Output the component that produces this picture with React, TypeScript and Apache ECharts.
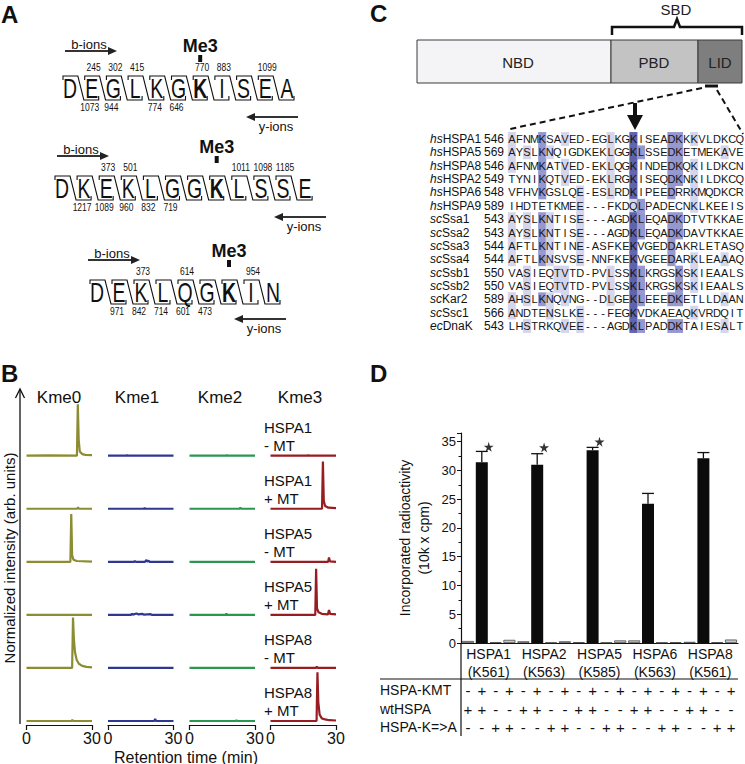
import React, { useEffect, useRef } from "react";
import * as echarts from "echarts";

const FONT = "'Liberation Sans', Arial, Helvetica, sans-serif";
const INK = "#111111";

/* ---------------- Panel A: peptide fragment maps ---------------- */
const peptideSeqs = ["DEGLKGKISEA", "DKEKLGGKLSSE", "DEKLQGKIN"];
const peptideMe3Index = [6, 7, 6];
const peptideBIons: number[][][] = [
  [[1, 245], [2, 302], [3, 415], [6, 770], [7, 883], [9, 1099]],
  [[2, 373], [3, 501], [8, 1011], [9, 1098], [10, 1185]],
  [[2, 373], [4, 614], [7, 954]],
];
const peptideYIons: number[][][] = [
  [[1, 1073], [2, 944], [4, 774], [5, 646]],
  [[1, 1217], [2, 1089], [3, 960], [4, 832], [5, 719]],
  [[1, 971], [2, 842], [3, 714], [4, 601], [5, 473]],
];

/* ---------------- Panel B: extracted ion chromatograms ---------------- */
const chromChannels = ["Kme0", "Kme1", "Kme2", "Kme3"];
const chromSamples = ["HSPA1\n- MT", "HSPA1\n+ MT", "HSPA5\n- MT", "HSPA5\n+ MT", "HSPA8\n- MT", "HSPA8\n+ MT"];
const chromColors = ["#8c8c32", "#2f3891", "#2a9652", "#981d22"];
const chromTimeTicks = [0, 30];
const kme0Traces: number[][][] = [
  [[0, 0], [10, 0.005], [23.1, 0], [23.5, 0.97], [23.9, 0.3], [24.4, 0.08], [25.5, 0.03], [27, 0.015], [30, 0.01]],
  [[0, 0], [23.2, 0], [23.6, 0.025], [24, 0], [30, 0]],
  [[0, 0], [20.1, 0], [20.5, 0.9], [20.9, 0.12], [21.5, 0.04], [23, 0.015], [30, 0.005]],
  [[0, 0], [30, 0]],
  [[0, 0], [20.9, 0], [21.3, 0.95], [21.7, 0.55], [22.2, 0.3], [23, 0.15], [24, 0.08], [25.5, 0.04], [27.5, 0.02], [30, 0.01]],
  [[0, 0], [20.6, 0], [21, 0.02], [21.4, 0], [30, 0]],
];
const kme1Traces: number[][][] = [
  [[0, 0], [8.5, 0], [8.8, 0.015], [9.1, 0], [30, 0]],
  [[0, 0], [16.5, 0], [16.8, 0.015], [17.1, 0], [30, 0]],
  [[0, 0], [12, 0], [12.3, 0.015], [12.8, 0], [17, 0], [17.5, 0.035], [18, 0.005], [18.6, 0.02], [19, 0], [30, 0]],
  [[0, 0], [10.5, 0], [11, 0.02], [11.5, 0.005], [13, 0.025], [14, 0.01], [15.5, 0.02], [16.5, 0.005], [19.5, 0.015], [20, 0], [30, 0]],
  [[0, 0], [30, 0]],
  [[0, 0], [21.2, 0], [21.6, 0.04], [22, 0], [30, 0]],
];
const kme2Traces: number[][][] = [
  [[0, 0], [16.8, 0], [17.1, 0.015], [17.4, 0], [30, 0]],
  [[0, 0], [23, 0], [23.3, 0.02], [23.6, 0], [30, 0]],
  [[0, 0], [30, 0]],
  [[0, 0], [16.6, 0], [16.9, 0.025], [17.2, 0], [30, 0]],
  [[0, 0], [30, 0]],
  [[0, 0], [21.2, 0], [21.5, 0.02], [21.8, 0], [30, 0]],
];
const kme3Traces: number[][][] = [
  [[0, 0], [17, 0], [17.3, 0.015], [17.6, 0], [30, 0]],
  [[0, 0], [23.6, 0], [24, 0.89], [24.4, 0.15], [25, 0.05], [26.5, 0.02], [30, 0.01]],
  [[0, 0], [26.4, 0], [26.8, 0.08], [27.2, 0.01], [30, 0]],
  [[0, 0], [20.5, 0], [20.9, 0.87], [21.3, 0.12], [22, 0.05], [23.5, 0.02], [26.3, 0.01], [26.8, 0.09], [27.3, 0.02], [30, 0.01]],
  [[0, 0], [20.8, 0], [21.2, 0.025], [21.6, 0], [30, 0]],
  [[0, 0], [21.1, 0], [21.5, 0.92], [21.9, 0.35], [22.5, 0.12], [23.5, 0.05], [25, 0.03], [27, 0.015], [30, 0.01]],
];

/* ---------------- Panel C: domains and alignment ---------------- */
const domainNames = ["NBD", "PBD", "LID"];
const alignSpecies = ["hs", "hs", "hs", "hs", "hs", "hs", "sc", "sc", "sc", "sc", "sc", "sc", "sc", "sc", "ec"];
const alignProteins = ["HSPA1", "HSPA5", "HSPA8", "HSPA2", "HSPA6", "HSPA9", "Ssa1", "Ssa2", "Ssa3", "Ssa4", "Ssb1", "Ssb2", "Kar2", "Ssc1", "DnaK"];
const alignStarts = [546, 569, 546, 549, 548, 589, 543, 543, 544, 544, 550, 550, 589, 566, 543];
const alignSeqs = [
  "AFNMKSAVED-EGLKGKISEADKKKVLDKCQ",
  "AYSLKNQIGDKEKLGGKLSSEDKETMEKAVE",
  "AFNMKATVED-EKLQGKINDEDKQKILDKCN",
  "TYNIKQTVED-EKLRGKISEQDKNKILDKCQ",
  "VFHVKGSLQE-ESLRDKIPEEDRRKMQDKCR",
  "IHDTETKMEE---FKDQLPADECNKLKEEIS",
  "AYSLKNTISE---AGDKLEQADKDTVTKKAE",
  "AYSLKNTISE---AGDKLEQADKDAVTKKAE",
  "AFTLKNTINE-ASFKEKVGEDDAKRLETASQ",
  "AFTLKNSVSE-NNFKEKVGEEDARKLEAAAQ",
  "VASIEQTVTD-PVLSSKLKRGSKSKIEAALS",
  "VASIEQTVTD-PVLSSKLKRGSKSKIEAALS",
  "AHSLKNQVNG--DLGEKLEEEDKETLLDAAN",
  "ANDTENSLKE---FEGKVDKAEAQKVRDQIT",
  "LHSTRKQVEE---AGDKLPADDKTAIESALT",
];
// conservation shading level per residue (0 none, 1 light, 2 medium, 3 dark)
const alignShades = [
  "10002 00100 00010 03000 02201 00000 0",
  "10102 10000 00010 03200 02200 00010 0",
  "10002 00100 00010 03000 02201 00000 0",
  "00002 00100 00010 03000 02201 00000 0",
  "00002 00001 00010 03000 02001 00000 0",
  "00000 00001 00000 01200 00001 00000 0",
  "10102 10001 00000 03200 02200 00000 0",
  "10102 10001 00000 03200 02200 00000 0",
  "10002 10001 00000 03000 02000 00000 0",
  "10002 10001 00000 03000 02001 00010 0",
  "00100 01100 00010 03200 00201 00000 0",
  "00100 01100 00010 03200 00201 00000 0",
  "10102 10100 00010 03200 02200 00010 0",
  "10000 10001 00000 03000 00001 00000 0",
  "00100 00101 00000 03200 02200 00010 0",
];
const shadeColors = ["rgba(255,255,255,0)", "#d5d6ec", "#9598cf", "#5f62ad"];

/* ---------------- Panel D: methyltransferase assay ---------------- */
const dGroups = ["HSPA1", "HSPA2", "HSPA5", "HSPA6", "HSPA8"];
const dSites = ["K561", "K563", "K585", "K563", "K561"];
const noKmtWt = [0.35, 0.3, 0.15, 0.45, 0.2];
const kmtWt = [31.4, 31.0, 33.5, 24.2, 32.1];
const noKmtKA = [0.15, 0.1, 0.1, 0.1, 0.15];
const kmtKA = [0.55, 0.3, 0.45, 0.15, 0.6];
const kmtWtErr = [1.9, 1.9, 0.5, 1.8, 1.0];
const starValues: (number | null)[] = [34.1, 34.0, 35.0, null, null];
const dYTicks = { min: 0, max: 36.5, interval: 5 };
const tableRowNames = ["HSPA-KMT", "wtHSPA", "HSPA-K=>A"];
const signKMT = ["-", "+", "-", "+", "-", "+", "-", "+", "-", "+", "-", "+", "-", "+", "-", "+", "-", "+", "-", "+"];
const signWT = ["+", "+", "-", "-", "+", "+", "-", "-", "+", "+", "-", "-", "+", "+", "-", "-", "+", "+", "-", "-"];
const signKA = ["-", "-", "+", "+", "-", "-", "+", "+", "-", "-", "+", "+", "-", "-", "+", "+", "-", "-", "+", "+"];

const STAR =
  "path://M50,0 L61,35 L98,35 L68,57 L79,91 L50,70 L21,91 L32,57 L2,35 L39,35 Z";

function txt(x: number, y: number, text: string, o: any = {}) {
  const align = o.align || "center";
  const va = o.verticalAlign || "middle";
  const { rotation, scaleX, ...rest } = o;
  return {
    type: "text",
    x,
    y,
    rotation: rotation || 0,
    scaleX: scaleX || 1,
    silent: true,
    z: 10,
    style: {
      text,
      fontFamily: FONT,
      fontSize: 14,
      fill: INK,
      ...rest,
      align,
      textAlign: align,
      verticalAlign: va,
      textVerticalAlign: va,
    },
  };
}
function ln(x1: number, y1: number, x2: number, y2: number, lw = 1, extra: any = {}) {
  return {
    type: "line",
    silent: true,
    z: 10,
    shape: { x1, y1, x2, y2 },
    style: { stroke: INK, lineWidth: lw, ...extra },
  };
}
function poly(points: number[][], fill: string) {
  return { type: "polygon", silent: true, z: 10, shape: { points }, style: { fill, stroke: "none" } };
}
function pline(points: number[][], lw: number) {
  return { type: "polyline", silent: true, z: 10, shape: { points }, style: { stroke: INK, lineWidth: lw, fill: "none" } };
}

function buildOption() {
  const g: any[] = [];

  /* ----- Panel A graphics ----- */
  g.push(txt(1, 14, "A", { align: "left", fontSize: 24, fontWeight: "bold" }));
  const aLayout = [
    { x0: 70, step: 21.7, cy: 88, bx: 65, by: 51, yx: 298, yy: 117, meY: 46 },
    { x0: 62, step: 22.1, cy: 188, bx: 57, by: 156, yx: 326, yy: 217, meY: 147 },
    { x0: 97, step: 22, cy: 292, bx: 88, by: 260, yx: 286, yy: 319, meY: 251 },
  ];
  peptideSeqs.forEach((seq, r) => {
    const L = aLayout[r];
    const lx = (i: number) => L.x0 + i * L.step;
    const chars = seq.split("");
    chars.forEach((ch, i) => {
      g.push(
        txt(lx(i), L.cy + 1, ch, {
          fontSize: 27,
          scaleX: 0.72,
          fontWeight: i === peptideMe3Index[r] ? "bold" : "normal",
        })
      );
    });
    for (let i = 0; i < chars.length - 1; i++) {
      const gx = (lx(i) + lx(i + 1)) / 2;
      g.push(
        pline(
          [
            [lx(i) - 7, L.cy - 8],
            [lx(i) - 7, L.cy - 12],
            [gx - 3, L.cy - 12],
            [gx + 3, L.cy + 12],
            [lx(i + 1) + 7, L.cy + 12],
            [lx(i + 1) + 7, L.cy + 8],
          ],
          1.1
        )
      );
    }
    peptideBIons[r].forEach(([i, m]) => g.push(txt(lx(i) + 2, L.cy - 20, String(m), { fontSize: 10, scaleX: 0.85 })));
    peptideYIons[r].forEach(([i, m]) => g.push(txt(lx(i) - 2, L.cy + 20, String(m), { fontSize: 10, scaleX: 0.85 })));
    const mx = lx(peptideMe3Index[r]);
    g.push(txt(mx, L.meY, "Me3", { fontSize: 18, fontWeight: "bold" }));
    g.push({ type: "rect", silent: true, z: 10, shape: { x: mx - 2, y: L.meY + 9, width: 4, height: 7 }, style: { fill: INK } });
    // b-ions arrow
    g.push(ln(L.bx, L.by, L.bx + 44, L.by, 1.8, { stroke: "#333" }));
    g.push(poly([[L.bx + 43, L.by - 4], [L.bx + 52, L.by], [L.bx + 43, L.by + 4]], "#222"));
    g.push(txt(L.bx + 24, L.by - 7, "b-ions", { fontSize: 13 }));
    // y-ions arrow
    g.push(ln(L.yx, L.yy, L.yx - 44, L.yy, 1.8, { stroke: "#333" }));
    g.push(poly([[L.yx - 43, L.yy - 4], [L.yx - 52, L.yy], [L.yx - 43, L.yy + 4]], "#222"));
    g.push(txt(L.yx - 22, L.yy + 9, "y-ions", { fontSize: 13 }));
  });

  /* ----- Panel B graphics ----- */
  g.push(txt(1, 373, "B", { align: "left", fontSize: 24, fontWeight: "bold" }));
  g.push(ln(20, 724, 20, 389, 1.3));
  g.push(pline([[15.5, 398], [20, 389], [24.5, 398]], 1.3));
  g.push(txt(9, 558, "Normalized intensity (arb. units)", { fontSize: 15, rotation: Math.PI / 2 }));
  const titleX = [59, 137, 220, 300];
  chromChannels.forEach((c, i) => g.push(txt(titleX[i], 397, c, { fontSize: 17 })));
  const rowBase = [456, 509, 562, 615, 668, 721];
  chromSamples.forEach((s, r) => g.push(txt(264, rowBase[r] - 20, s, { align: "left", fontSize: 15, lineHeight: 18 })));
  g.push(txt(186, 757, "Retention time (min)", { fontSize: 16 }));

  /* ----- Panel C graphics ----- */
  g.push(txt(370, 13, "C", { align: "left", fontSize: 24, fontWeight: "bold" }));
  const dom = [
    { x: 417, w: 194, fill: "#f4f4f6", cx: 518 },
    { x: 611, w: 87, fill: "#c3c3c3", cx: 654 },
    { x: 698, w: 44, fill: "#7e7e7e", cx: 720 },
  ];
  dom.forEach((d, i) => {
    g.push({ type: "rect", silent: true, z: 9, shape: { x: d.x, y: 40, width: d.w, height: 43 }, style: { fill: d.fill, stroke: "#3a3a3a", lineWidth: 1 } });
    g.push(txt(d.cx, 62, domainNames[i], { fontSize: 15, fill: "#222" }));
  });
  g.push(pline([[612, 35], [612, 27], [674, 27], [677, 19], [680, 27], [742, 27], [742, 35]], 2.5));
  g.push(txt(676, 9, "SBD", { fontSize: 15, fill: "#222" }));
  g.push({ type: "rect", silent: true, z: 10, shape: { x: 705, y: 84.5, width: 13, height: 3 }, style: { fill: INK } });
  g.push(ln(702, 88, 510, 129, 2, { lineDash: [6, 4] }));
  g.push(ln(717, 90, 743, 134, 2, { lineDash: [6, 4] }));
  g.push({ type: "rect", silent: true, z: 10, shape: { x: 633, y: 103, width: 4, height: 14 }, style: { fill: INK } });
  g.push(poly([[627, 115], [643, 115], [635, 130]], INK));

  /* ----- Panel D graphics ----- */
  g.push(txt(370, 373, "D", { align: "left", fontSize: 24, fontWeight: "bold" }));
  const tableY = [690, 709, 727];
  tableRowNames.forEach((n, i) => g.push(txt(380, tableY[i], n, { align: "left", fontSize: 14 })));
  g.push(ln(380, 679, 738, 679, 1.2));
  g.push(ln(461, 643, 461, 736, 1.2));

  /* ----- grids, axes, series ----- */
  const bLeft = [26.5, 108, 189.5, 270.5];
  const grids: any[] = bLeft.map((l) => ({ left: l, top: 392, width: 65.5, height: 333 }));
  grids.push({ left: 508, top: 132.3, width: 235.6, height: 200.4 }); // 4: alignment
  grids.push({ left: 461, top: 433, right: 7, bottom: 121 }); // 5: bar chart

  const xAxes: any[] = [];
  const yAxes: any[] = [];
  bLeft.forEach((_, c) => {
    xAxes.push({
      type: "value",
      gridIndex: c,
      min: chromTimeTicks[0],
      max: chromTimeTicks[1],
      interval: chromTimeTicks[1] - chromTimeTicks[0],
      axisLine: { show: true, onZero: false, lineStyle: { color: INK, width: 1.2 } },
      axisTick: { show: true, length: 5, lineStyle: { color: INK, width: 1.2 } },
      axisLabel: { fontSize: 16, color: INK, fontFamily: FONT, margin: 5 },
      splitLine: { show: false },
    });
    yAxes.push({ type: "value", gridIndex: c, min: -0.075, max: 6.2, show: false });
  });
  const alignCols = alignSeqs[0].split("").map((_, i) => String(i));
  xAxes.push({ type: "category", gridIndex: 4, data: alignCols, show: false });
  yAxes.push({
    type: "category",
    gridIndex: 4,
    data: alignProteins,
    inverse: true,
    position: "left",
    axisLine: { show: false },
    axisTick: { show: false },
    axisLabel: { interval: 0, formatter: (_v: any, i: number) => String(alignStarts[i]), fontSize: 12, color: INK, fontFamily: FONT, margin: 4 },
  });
  yAxes.push({
    type: "category",
    gridIndex: 4,
    data: alignProteins,
    inverse: true,
    position: "left",
    axisLine: { show: false },
    axisTick: { show: false },
    axisLabel: {
      interval: 0,
      align: "left",
      margin: 78,
      formatter: (v: string, i: number) => `{i|${alignSpecies[i]}}{n|${v}}`,
      rich: {
        i: { fontStyle: "italic", fontSize: 12, fontFamily: FONT, color: INK },
        n: { fontSize: 12, fontFamily: FONT, color: INK },
      },
    },
  });
  // panel D axes
  xAxes.push({
    type: "category",
    gridIndex: 5,
    data: dGroups,
    axisLine: { lineStyle: { color: INK, width: 1.2 } },
    axisTick: { show: false },
    axisLabel: {
      interval: 0,
      formatter: (v: string, i: number) => `${v}\n(${dSites[i]})`,
      fontSize: 14,
      lineHeight: 18,
      color: INK,
      fontFamily: FONT,
      margin: 2,
    },
  });
  [signKMT, signWT, signKA].forEach((signs, k) => {
    xAxes.push({
      type: "category",
      gridIndex: 5,
      position: "bottom",
      offset: [47, 66, 84][k],
      data: signs.map((_, i) => "c" + i),
      axisLine: { show: false },
      axisTick: { show: false },
      axisLabel: {
        interval: 0,
        formatter: (_v: any, i: number) => signs[i],
        fontSize: 15,
        color: INK,
        fontFamily: FONT,
        margin: 0,
        verticalAlign: "middle",
      },
    });
  });
  yAxes.push({
    type: "value",
    gridIndex: 5,
    min: dYTicks.min,
    max: dYTicks.max,
    interval: dYTicks.interval,
    axisLine: { show: true, lineStyle: { color: INK, width: 1.2 } },
    axisTick: { show: true, length: 4, lineStyle: { color: INK } },
    minorTick: { show: true, splitNumber: 2, length: 2.5, lineStyle: { color: INK } },
    splitLine: { show: false },
    axisLabel: { showMaxLabel: false, fontSize: 13, color: INK, fontFamily: FONT, margin: 5 },
    name: "Incorporated radioactivity\n(10k x cpm)",
    nameLocation: "middle",
    nameGap: 28,
    nameRotate: 90,
    nameTextStyle: { fontSize: 14, lineHeight: 19, color: INK, fontFamily: FONT },
  });

  const series: any[] = [];
  [kme0Traces, kme1Traces, kme2Traces, kme3Traces].forEach((set, c) =>
    set.forEach((trace, r) =>
      series.push({
        type: "line",
        xAxisIndex: c,
        yAxisIndex: c,
        data: trace.map(([t, v]) => [t, v + (5 - r)]),
        showSymbol: false,
        symbol: "none",
        silent: true,
        lineStyle: { color: chromColors[c], width: 2.2 },
      })
    )
  );
  const heatIndex = series.length;
  const heatData: any[] = [];
  alignSeqs.forEach((seq, r) => {
    const shades = alignShades[r].replace(/ /g, "");
    seq.split("").forEach((ch, c) => {
      heatData.push({ value: [c, r, Number(shades[c])], letter: ch });
    });
  });
  series.push({
    type: "heatmap",
    xAxisIndex: 4,
    yAxisIndex: 4,
    data: heatData,
    silent: true,
    itemStyle: { borderWidth: 0 },
    label: {
      show: true,
      formatter: (p: any) => p.data.letter,
      fontSize: 11,
      fontFamily: FONT,
      color: "#151515",
    },
    emphasis: { disabled: true },
  });
  [noKmtWt, kmtWt, noKmtKA, kmtKA].forEach((vals, k) =>
    series.push({
      type: "bar",
      xAxisIndex: 5,
      yAxisIndex: 6,
      data: vals,
      barWidth: 12,
      barGap: "15%",
      silent: true,
      itemStyle: k === 1 ? { color: "#0b0b0b" } : { color: "#c9c9c9", borderColor: "#4a4a4a", borderWidth: 0.8 },
    })
  );
  series.push({
    type: "custom",
    xAxisIndex: 5,
    yAxisIndex: 6,
    silent: true,
    z: 5,
    data: kmtWt.map((v, i) => [i, v, kmtWtErr[i]]),
    renderItem: (_p: any, api: any) => {
      const cat = api.value(0);
      const v = api.value(1);
      const e = api.value(2);
      const p0 = api.coord([cat, v]);
      const p1 = api.coord([cat, v + e]);
      const x = p0[0] - 6.9;
      return {
        type: "group",
        children: [
          { type: "line", shape: { x1: x, y1: p0[1], x2: x, y2: p1[1] }, style: { stroke: INK, lineWidth: 1.3 } },
          { type: "line", shape: { x1: x - 6, y1: p1[1], x2: x + 6, y2: p1[1] }, style: { stroke: INK, lineWidth: 1.3 } },
        ],
      };
    },
  });
  series.push({
    type: "scatter",
    xAxisIndex: 5,
    yAxisIndex: 6,
    silent: true,
    z: 6,
    symbol: STAR,
    symbolSize: 10,
    itemStyle: { color: "#000" },
    data: starValues.map((v, i) => (v == null ? null : [i, v])).filter((d) => d !== null),
  });

  return {
    animation: false,
    backgroundColor: "#ffffff",
    textStyle: { fontFamily: FONT },
    grid: grids,
    xAxis: xAxes,
    yAxis: yAxes,
    visualMap: {
      type: "piecewise",
      show: false,
      seriesIndex: heatIndex,
      dimension: 2,
      pieces: shadeColors.map((color, value) => ({ value, color })),
    },
    graphic: { elements: g },
    series,
  };
}

export default function App() {
  const ref = useRef<HTMLDivElement>(null);
  useEffect(() => {
    if (!ref.current) return;
    const chart = echarts.init(ref.current, null, { renderer: "svg" });
    chart.setOption(buildOption() as any);
    return () => chart.dispose();
  }, []);
  return (
    <div
      ref={ref}
      style={{ position: "absolute", left: 0, top: 0, width: 745, height: 764, background: "#fff" }}
    />
  );
}
